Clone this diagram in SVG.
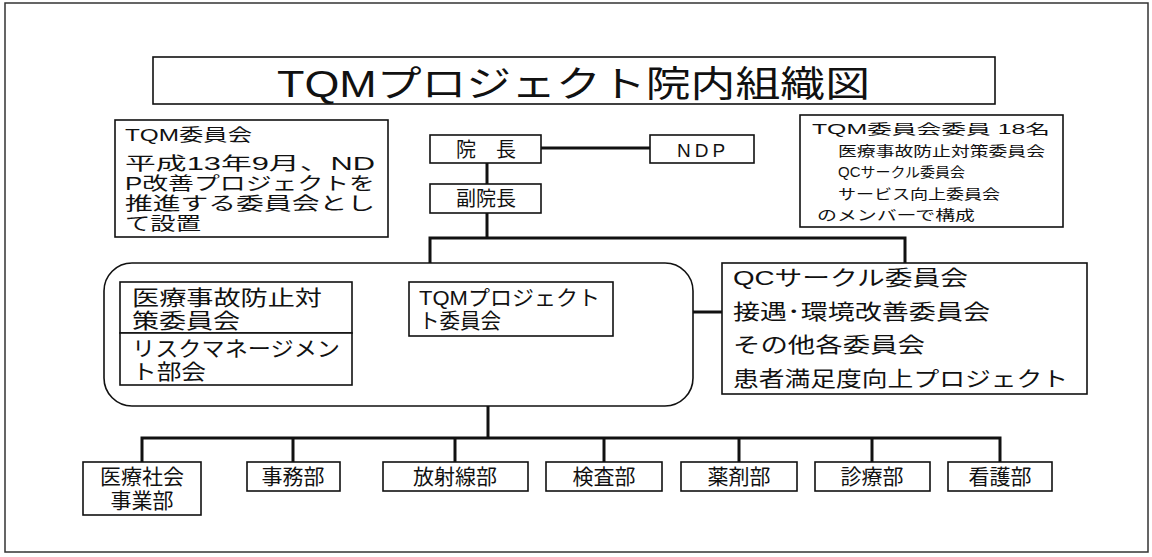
<svg xmlns="http://www.w3.org/2000/svg" width="1152" height="557" viewBox="0 0 1152 557">
<style>
.box{fill:#fff;stroke:#111;stroke-width:1.6}
.frame{fill:none;stroke:#333;stroke-width:1.5}
.con{stroke:#111;stroke-width:3;fill:none}
text{font-family:"Liberation Sans","Noto Sans CJK JP",sans-serif;fill:#111}
.t20{font-size:20px}
.t18{font-size:17px}
.t17{font-size:18px}
.t15{font-size:14px}
.t22{font-size:21px}
.mid{text-anchor:middle}
</style>
<rect class="frame" x="5" y="3" width="1143" height="549"/>
<g id="title">
<rect class="box" x="153" y="57" width="842" height="47"/>
<text x="277" y="97" font-size="36" textLength="593" lengthAdjust="spacingAndGlyphs">TQMプロジェクト院内組織図</text>
</g>
<g id="connectors">
<line class="con" x1="541" y1="148" x2="650" y2="148"/>
<line class="con" x1="487" y1="163" x2="487" y2="184"/>
<line class="con" x1="487" y1="213" x2="487" y2="238"/>
<polyline class="con" points="430,263 430,238 905,238 905,263"/>
<line class="con" x1="693" y1="312" x2="722" y2="312"/>
<line class="con" x1="488" y1="406" x2="488" y2="438"/>
<polyline class="con" points="142,462 142,438 1000,438 1000,462"/>
<line class="con" x1="293" y1="438" x2="293" y2="462"/>
<line class="con" x1="455" y1="438" x2="455" y2="462"/>
<line class="con" x1="604" y1="438" x2="604" y2="462"/>
<line class="con" x1="739" y1="438" x2="739" y2="462"/>
<line class="con" x1="872" y1="438" x2="872" y2="462"/>
</g>
<g id="tqm-committee">
<rect class="box" x="115" y="120" width="273" height="117"/>
<text class="t18" x="125" y="141" textLength="127" lengthAdjust="spacingAndGlyphs">TQM委員会</text>
<text class="t17" x="125" y="170" textLength="250" lengthAdjust="spacingAndGlyphs">平成13年9月、ND</text>
<text class="t17" x="125" y="190" textLength="250" lengthAdjust="spacingAndGlyphs">P改善プロジェクトを</text>
<text class="t17" x="125" y="210" textLength="250" lengthAdjust="spacingAndGlyphs">推進する委員会とし</text>
<text class="t17" x="125" y="230" textLength="76" lengthAdjust="spacingAndGlyphs">て設置</text>
</g>
<g id="director">
<rect class="box" x="430" y="135" width="111" height="28"/>
<text class="t20 mid" x="486" y="157">院　長</text>
</g>
<g id="ndp">
<rect class="box" x="650" y="135" width="104" height="28"/>
<text class="mid" x="703" y="157" font-size="19" letter-spacing="4">NDP</text>
</g>
<g id="vice-director">
<rect class="box" x="430" y="184" width="111" height="29"/>
<text class="t20 mid" x="486" y="206">副院長</text>
</g>
<g id="members">
<rect class="box" x="800" y="115" width="263" height="112"/>
<text class="t15" x="812" y="134" textLength="238" lengthAdjust="spacingAndGlyphs">TQM委員会委員 18名</text>
<text class="t15" x="838" y="156" textLength="207" lengthAdjust="spacingAndGlyphs">医療事故防止対策委員会</text>
<text class="t15" x="838" y="177" textLength="127" lengthAdjust="spacingAndGlyphs">QCサークル委員会</text>
<text class="t15" x="838" y="199" textLength="162" lengthAdjust="spacingAndGlyphs">サービス向上委員会</text>
<text class="t15" x="817" y="220" textLength="158" lengthAdjust="spacingAndGlyphs">のメンバーで構成</text>
</g>
<g id="project-group">
<rect class="box" x="104" y="263" width="589" height="143" rx="28" ry="28"/>
</g>
<g id="accident-committee">
<rect class="box" x="120" y="282" width="232" height="51"/>
<text class="t22" x="132" y="305" textLength="190" lengthAdjust="spacingAndGlyphs">医療事故防止対</text>
<text class="t22" x="132" y="328" textLength="108" lengthAdjust="spacingAndGlyphs">策委員会</text>
</g>
<g id="risk-management">
<rect class="box" x="120" y="333" width="232" height="52"/>
<text class="t22" x="132" y="356" textLength="208" lengthAdjust="spacingAndGlyphs">リスクマネージメン</text>
<text class="t22" x="132" y="379" textLength="74" lengthAdjust="spacingAndGlyphs">ト部会</text>
</g>
<g id="tqm-project-committee">
<rect class="box" x="409" y="282" width="204" height="54"/>
<text class="t22" x="419" y="305" textLength="181" lengthAdjust="spacingAndGlyphs">TQMプロジェクト</text>
<text class="t22" x="419" y="328" textLength="82" lengthAdjust="spacingAndGlyphs">ト委員会</text>
</g>
<g id="other-committees">
<rect class="box" x="722" y="263" width="365" height="131"/>
<text class="t22" x="733" y="285" textLength="235" lengthAdjust="spacingAndGlyphs">QCサークル委員会</text>
<text class="t22" x="733" y="319" textLength="257" lengthAdjust="spacingAndGlyphs">接遇･環境改善委員会</text>
<text class="t22" x="733" y="352" textLength="192" lengthAdjust="spacingAndGlyphs">その他各委員会</text>
<text class="t22" x="733" y="386" textLength="335" lengthAdjust="spacingAndGlyphs">患者満足度向上プロジェクト</text>
</g>
<g id="medical-social">
<rect class="box" x="83" y="462" width="118" height="53"/>
<text class="t22 mid" x="142" y="484">医療社会</text>
<text class="t22 mid" x="142" y="508">事業部</text>
</g>
<g id="admin">
<rect class="box" x="247" y="462" width="93" height="29"/>
<text class="t22 mid" x="293" y="484">事務部</text>
</g>
<g id="radiology">
<rect class="box" x="383" y="462" width="145" height="29"/>
<text class="t22 mid" x="455" y="484">放射線部</text>
</g>
<g id="laboratory">
<rect class="box" x="546" y="462" width="116" height="29"/>
<text class="t22 mid" x="604" y="484">検査部</text>
</g>
<g id="pharmacy">
<rect class="box" x="681" y="462" width="116" height="29"/>
<text class="t22 mid" x="739" y="484">薬剤部</text>
</g>
<g id="medical">
<rect class="box" x="815" y="462" width="115" height="29"/>
<text class="t22 mid" x="872" y="484">診療部</text>
</g>
<g id="nursing">
<rect class="box" x="948" y="462" width="104" height="29"/>
<text class="t22 mid" x="1000" y="484">看護部</text>
</g>
</svg>
